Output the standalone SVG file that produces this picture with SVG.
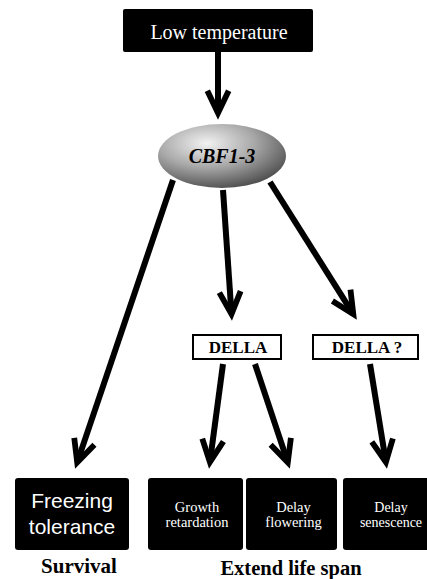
<svg xmlns="http://www.w3.org/2000/svg" width="427" height="579" viewBox="0 0 427 579">
<style>
.blk{fill:#000}
.wt{fill:#fff;font-family:"Liberation Serif","Times New Roman","DejaVu Serif",serif;text-anchor:middle}
.ws{fill:#fff;font-family:"Liberation Sans",Arial,sans-serif;text-anchor:middle}
.bt{fill:#000;font-family:"Liberation Serif","Times New Roman","DejaVu Serif",serif;font-weight:bold;text-anchor:middle}
.wb{fill:#fff;stroke:#000;stroke-width:2}
.ar{stroke:#000;stroke-width:6;fill:none;marker-end:url(#chev)}
.cbf{fill:#000;font-family:"Liberation Serif","Times New Roman","DejaVu Serif",serif;font-weight:bold;font-style:italic;text-anchor:middle}
</style>
<defs>
<marker id="chev" markerUnits="userSpaceOnUse" markerWidth="40" markerHeight="40" viewBox="-30 -20 45 40" refX="0" refY="0" orient="auto">
<path d="M-25,-12 L0,0 L-25,12" fill="none" stroke="#000" stroke-width="6.5" stroke-linejoin="miter" stroke-miterlimit="10"/>
</marker>
<radialGradient id="eg" cx="0.38" cy="0.3" r="0.75">
<stop offset="0" stop-color="#f2f2f2"/>
<stop offset="0.5" stop-color="#a8a8a8"/>
<stop offset="1" stop-color="#4a4a4a"/>
</radialGradient>
</defs>
<g id="connectors">
<line class="ar" x1="218" y1="52" x2="218" y2="113"/>
<line class="ar" x1="173" y1="180" x2="77.2" y2="462.4"/>
<line class="ar" x1="223" y1="190" x2="231.5" y2="314"/>
<line class="ar" x1="270" y1="182" x2="353.3" y2="314.1"/>
<line class="ar" x1="223" y1="364" x2="209.9" y2="462.1"/>
<line class="ar" x1="255" y1="364" x2="287.8" y2="462.4"/>
<line class="ar" x1="370" y1="364" x2="385.9" y2="462.1"/>
</g>
<g id="low-temperature">
<rect class="blk" x="123" y="9" width="190" height="43" rx="2"/>
<text class="wt" x="219" y="39" font-size="20">Low temperature</text>
</g>
<g id="cbf">
<ellipse cx="222" cy="156" rx="64" ry="32" fill="url(#eg)"/>
<text class="cbf" x="222" y="163" font-size="20">CBF1-3</text>
</g>
<g id="della1">
<rect class="wb" x="193" y="335" width="88" height="24"/>
<text class="bt" x="238" y="353" font-size="17">DELLA</text>
</g>
<g id="della2">
<rect class="wb" x="313" y="335" width="105" height="24"/>
<text class="bt" x="367" y="353" font-size="17">DELLA ?</text>
</g>
<g id="freezing">
<rect class="blk" x="15" y="478" width="114" height="72" rx="3"/>
<text class="ws" x="72" y="508" font-size="21">Freezing</text>
<text class="ws" x="72" y="534" font-size="21">tolerance</text>
</g>
<g id="growth">
<rect class="blk" x="148" y="478" width="95" height="72" rx="3"/>
<text class="wt" x="197" y="512" font-size="14.5">Growth</text>
<text class="wt" x="197" y="527" font-size="14.5">retardation</text>
</g>
<g id="flowering">
<rect class="blk" x="246" y="478" width="91" height="72" rx="3"/>
<text class="wt" x="293.5" y="512" font-size="14.5">Delay</text>
<text class="wt" x="293.5" y="527" font-size="14.5">flowering</text>
</g>
<g id="senescence">
<rect class="blk" x="343" y="478" width="90" height="72" rx="3"/>
<text class="wt" x="391" y="512" font-size="14">Delay</text>
<text class="wt" x="391" y="527" font-size="14">senescence</text>
</g>
<g id="labels">
<text class="bt" x="79" y="573" font-size="21">Survival</text>
<text class="bt" x="291" y="575" font-size="20.5">Extend life span</text>
</g>
</svg>
